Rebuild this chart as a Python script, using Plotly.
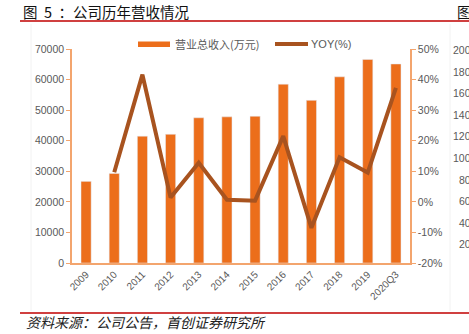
import plotly.graph_objects as go

categories = ["2009", "2010", "2011", "2012", "2013", "2014", "2015", "2016",
              "2017", "2018", "2019", "2020Q3"]
revenue = [26700, 29300, 41500, 42100, 47500, 47800, 48000, 58500,
           53200, 60900, 66600, 65100]
yoy = [None, 9.7, 41.6, 1.4, 12.8, 0.7, 0.4, 21.5, -8.5, 14.6, 9.6, 37.3]
yoy_ticks = [-20, -10, 0, 10, 20, 30, 40, 50]
yoy_ticktext = ["-20%", "-10%", "0%", "10%", "20%", "30%", "40%", "50%"]
right_chart_ticks = ["200", "180", "160", "140", "120", "100", "80", "60", "40", "20"]

BAR = "#EC6E1B"
LINE = "#A8531F"
AXIS = "#F3A56E"
GRAY = "#595959"
RED = "#C00000"

W, H = 469, 334
L, R, T, B = 72, 410, 49, 263


def px(x):
    return (x - L) / (R - L)


def py(y):
    return (B - y) / (B - T)


fig = go.Figure()
fig.add_trace(go.Bar(x=categories, y=revenue, marker_color=BAR, width=0.36,
                     name="营业总收入(万元)", showlegend=False))
fig.add_trace(go.Scatter(x=categories, y=yoy, yaxis="y2", mode="lines",
                         line=dict(color=LINE, width=4), name="YOY(%)",
                         showlegend=False, connectgaps=False))

tickfont = dict(family="Liberation Sans, Arial", size=10.5, color=GRAY)

fig.update_layout(
    width=W, height=H,
    margin=dict(l=L, r=W - R, t=T, b=H - B),
    paper_bgcolor="white", plot_bgcolor="white",
    xaxis=dict(type="category", showgrid=False, showline=True, linecolor=AXIS,
               linewidth=1.5, tickangle=-45, ticks="",
               tickfont=dict(family="Liberation Sans, Arial", size=10, color=GRAY),
               range=[-0.5, 11.5]),
    yaxis=dict(range=[0, 70000], dtick=10000, tickformat="d", showgrid=False,
               showline=True, linecolor=AXIS, linewidth=1.5, ticks="outside",
               ticklen=4, tickcolor=AXIS, tickfont=tickfont, zeroline=False),
    yaxis2=dict(range=[-20, 50], tickvals=yoy_ticks, ticktext=yoy_ticktext,
                overlaying="y", side="right",
                showgrid=False, showline=True, linecolor=AXIS, linewidth=1.5,
                ticks="outside", ticklen=4, tickcolor=AXIS,
                tickfont=tickfont, zeroline=False),
    showlegend=False,
)

shapes = []
shapes.append(dict(type="line", xref="paper", yref="paper", x0=px(20), x1=px(475),
                   y0=py(21), y1=py(21), line=dict(color=RED, width=1.5)))
shapes.append(dict(type="line", xref="paper", yref="paper", x0=px(20), x1=px(475),
                   y0=py(313), y1=py(313), line=dict(color=RED, width=1.5)))
for xv in (31, 450):
    shapes.append(dict(type="line", xref="paper", yref="paper", x0=px(xv), x1=px(xv),
                       y0=py(24), y1=py(311), line=dict(color="#F2F2F2", width=1)))
shapes.append(dict(type="rect", xref="paper", yref="paper", x0=px(138), x1=px(170),
                   y0=py(47), y1=py(41.5), fillcolor=BAR, line=dict(width=0)))
shapes.append(dict(type="line", xref="paper", yref="paper", x0=px(275), x1=px(308),
                   y0=py(44), y1=py(44), line=dict(color=LINE, width=4)))
fig.update_layout(shapes=shapes)

ann = []
cjk = "Noto Sans CJK SC"
ann.append(dict(text="营业总收入(万元)", xref="paper", yref="paper", x=px(173), y=py(44),
                xanchor="left", yanchor="middle", showarrow=False,
                font=dict(family=cjk, size=11, color=GRAY)))
ann.append(dict(text="YOY(%)", xref="paper", yref="paper", x=px(309), y=py(44),
                xanchor="left", yanchor="middle", showarrow=False,
                font=dict(family="Liberation Sans, Arial", size=11, color=GRAY)))
ann.append(dict(text="图\u00a0\u00a05\u00a0\u00a0：公司历年营收情况", xref="paper", yref="paper",
                x=px(21), y=py(11), xanchor="left", yanchor="middle", showarrow=False,
                font=dict(family=cjk, size=14.5, color="#111111")))
ann.append(dict(text="图", xref="paper", yref="paper", x=px(455), y=py(11),
                xanchor="left", yanchor="middle", showarrow=False,
                font=dict(family=cjk, size=14.5, color="#111111")))
ann.append(dict(text="资料来源：公司公告，首创证券研究所", xref="paper", yref="paper",
                x=px(24), y=py(322), xanchor="left", yanchor="middle", showarrow=False,
                font=dict(family=cjk, size=14, color="#222222", style="italic")))
for i, t in enumerate(right_chart_ticks):
    yy = 50 + i * 21.6
    ann.append(dict(text=t, xref="paper", yref="paper", x=px(473), y=py(yy),
                    xanchor="right", yanchor="middle", showarrow=False,
                    font=tickfont))
fig.update_layout(annotations=ann)

fig.write_html("out.html")
